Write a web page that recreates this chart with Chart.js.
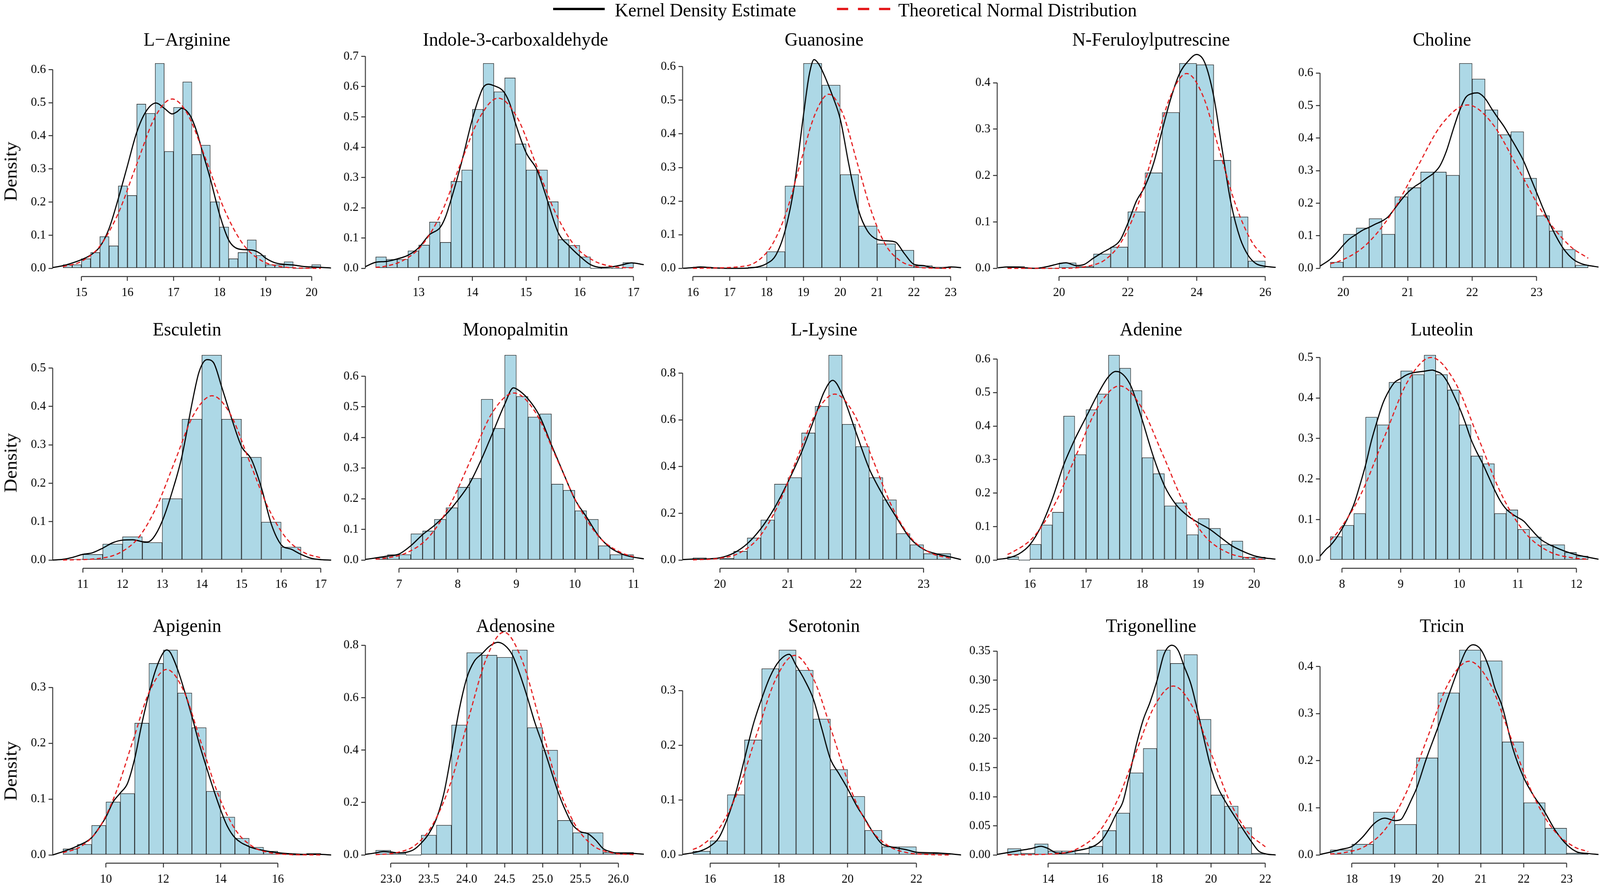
<!DOCTYPE html>
<html>
<head>
<meta charset="utf-8">
<script src="https://cdn.jsdelivr.net/npm/chart.js@4.4.1/dist/chart.umd.min.js"></script>
<style>
  html, body { margin: 0; padding: 0; background: #fff; overflow: hidden; }
  #page { position: absolute; left: 0; top: 0; width: 4252px; height: 2271px; overflow: hidden; transform-origin: 0 0;
          font-family: 'Liberation Serif', 'Times New Roman', serif; color: #000; background: #fff; }
  canvas { position: absolute; }
  .title { position: absolute; width: 800px; height: 49px; line-height: 49px; font-size: 49px; text-align: center; white-space: nowrap; }
  .ylab { position: absolute; font-size: 49px; line-height: 49px; white-space: nowrap; transform: translate(-50%, -50%) rotate(-90deg); }
  .legtext { position: absolute; top: 1px; font-size: 49px; line-height: 49px; white-space: nowrap; }
</style>
</head>
<body>
<div id="page">
<div style="position:absolute;left:1470px;top:20px;width:137px;height:6px;background:#000"></div>
<div class="legtext" style="left:1634px">Kernel Density Estimate</div>
<svg style="position:absolute;left:2224px;top:13px" width="142" height="20">
  <line x1="0" y1="10" x2="142" y2="10" stroke="#E41A1C" stroke-width="6" stroke-dasharray="30 26"/>
</svg>
<div class="legtext" style="left:2387px">Theoretical Normal Distribution</div>
</div>

<script>
// ---- data ----
const titles = ['L\u2212Arginine', 'Indole-3-carboxaldehyde', 'Guanosine', 'N-Feruloylputrescine', 'Choline',
                'Esculetin', 'Monopalmitin', 'L-Lysine', 'Adenine', 'Luteolin',
                'Apigenin', 'Adenosine', 'Serotonin', 'Trigonelline', 'Tricin'];

const binStart = [14.6, 12.2, 16.0, 18.5, 19.8, 10.5, 6.6, 19.6, 15.6, 7.8, 8.5, 22.8, 15.5, 12.5, 17.5];
const binWidth = [0.2, 0.2, 0.5, 0.5, 0.2, 0.5, 0.2, 0.2, 0.2, 0.2, 0.5, 0.2, 0.5, 0.5, 0.5];

const xTicks = [
  [15, 16, 17, 18, 19, 20], [13, 14, 15, 16, 17], [16, 17, 18, 19, 20, 21, 22, 23], [20, 22, 24, 26], [20, 21, 22, 23],
  [11, 12, 13, 14, 15, 16, 17], [7, 8, 9, 10, 11], [20, 21, 22, 23], [16, 17, 18, 19, 20], [8, 9, 10, 11, 12],
  [10, 12, 14, 16], [23, 23.5, 24, 24.5, 25, 25.5, 26], [16, 18, 20, 22], [14, 16, 18, 20, 22], [18, 19, 20, 21, 22, 23]
];
const yTicks = [
  [0, 0.1, 0.2, 0.3, 0.4, 0.5, 0.6], [0, 0.1, 0.2, 0.3, 0.4, 0.5, 0.6, 0.7], [0, 0.1, 0.2, 0.3, 0.4, 0.5, 0.6],
  [0, 0.1, 0.2, 0.3, 0.4], [0, 0.1, 0.2, 0.3, 0.4, 0.5, 0.6],
  [0, 0.1, 0.2, 0.3, 0.4, 0.5], [0, 0.1, 0.2, 0.3, 0.4, 0.5, 0.6], [0, 0.2, 0.4, 0.6, 0.8],
  [0, 0.1, 0.2, 0.3, 0.4, 0.5, 0.6], [0, 0.1, 0.2, 0.3, 0.4, 0.5],
  [0, 0.1, 0.2, 0.3], [0, 0.2, 0.4, 0.6, 0.8], [0, 0.1, 0.2, 0.3],
  [0, 0.05, 0.1, 0.15, 0.2, 0.25, 0.3, 0.35], [0, 0.1, 0.2, 0.3, 0.4]
];
const xDigits = [0, 0, 0, 0, 0, 0, 0, 0, 0, 0, 0, 1, 0, 0, 0];
const yDigits = [1, 1, 1, 1, 1, 1, 1, 1, 1, 1, 1, 1, 1, 2, 1];

// histogram densities, one value per bin
const histArginine = [0.011, 0.011, 0.029, 0.048, 0.096, 0.068, 0.249, 0.220, 0.496, 0.468, 0.619, 0.353, 0.486, 0.563,
                      0.344, 0.372, 0.201, 0.125, 0.029, 0.048, 0.086, 0.039, 0.011, 0.011, 0.020, 0, 0, 0.011];
const histIndole = [0.038, 0.030, 0.030, 0.058, 0.077, 0.153, 0.086, 0.287, 0.325, 0.525, 0.677, 0.583, 0.629, 0.411,
                    0.325, 0.325, 0.220, 0.095, 0.076, 0.038, 0, 0, 0, 0.019];
const histGuanosine = [0.004, 0, 0, 0.004, 0.050, 0.245, 0.610, 0.545, 0.279, 0.126, 0.073, 0.054, 0.008, 0.004];
const histFeruloyl = [0.004, 0, 0, 0.012, 0.004, 0.031, 0.046, 0.122, 0.206, 0.336, 0.442, 0.439, 0.233, 0.111, 0.016];
const histCholine = [0.019, 0.105, 0.124, 0.153, 0.105, 0.220, 0.248, 0.296, 0.296, 0.286, 0.630, 0.582, 0.487, 0.411,
                     0.420, 0.277, 0.162, 0.115, 0.058, 0.010];
const histEsculetin = [0.003, 0.015, 0.042, 0.061, 0.046, 0.160, 0.367, 0.534, 0.367, 0.268, 0.099, 0.034, 0.003];
const histMonopalmitin = [0.009, 0.018, 0.018, 0.086, 0.095, 0.133, 0.171, 0.238, 0.267, 0.525, 0.430, 0.669, 0.534,
                          0.467, 0.477, 0.248, 0.228, 0.161, 0.133, 0.047, 0.018, 0.018];
const histLysine = [0.010, 0.004, 0.008, 0.038, 0.095, 0.172, 0.325, 0.353, 0.544, 0.658, 0.877, 0.581, 0.486, 0.353,
                    0.258, 0.114, 0.066, 0.028, 0.028];
const histAdenine = [0.010, 0, 0.047, 0.105, 0.143, 0.430, 0.315, 0.449, 0.496, 0.612, 0.573, 0.506, 0.306, 0.258,
                     0.162, 0.171, 0.076, 0.124, 0.095, 0.047, 0.057, 0.009, 0.009];
const histLuteolin = [0.058, 0.086, 0.115, 0.353, 0.334, 0.439, 0.467, 0.458, 0.506, 0.458, 0.420, 0.334, 0.257, 0.238,
                      0.115, 0.124, 0.076, 0.057, 0.038, 0.038, 0.019, 0.010];
const histApigenin = [0.011, 0.019, 0.053, 0.095, 0.110, 0.236, 0.343, 0.367, 0.290, 0.228, 0.114, 0.068, 0.030, 0.014,
                      0.007, 0.003, 0, 0.003];
const histAdenosine = [0.018, 0.008, 0, 0.076, 0.114, 0.496, 0.772, 0.762, 0.754, 0.782, 0.486, 0.400, 0.132, 0.085,
                       0.085, 0.010, 0.010];
const histSerotonin = [0.007, 0.026, 0.110, 0.210, 0.340, 0.374, 0.337, 0.248, 0.156, 0.107, 0.045, 0.015, 0.015, 0.003, 0.003];
const histTrigonelline = [0.011, 0.003, 0.019, 0.007, 0.007, 0.003, 0.015, 0.042, 0.072, 0.141, 0.183, 0.352, 0.329,
                          0.344, 0.233, 0.103, 0.084, 0.047, 0.003];
const histTricin = [0.011, 0.023, 0.091, 0.065, 0.206, 0.344, 0.435, 0.412, 0.240, 0.111, 0.057, 0.004];

// kernel density curves [x, density]
const kdeArginine = [[14.36, 0.002], [14.6, 0.008], [14.8, 0.016], [15.0, 0.026], [15.2, 0.040], [15.4, 0.065], [15.6, 0.120],
  [15.8, 0.210], [16.0, 0.310], [16.2, 0.410], [16.4, 0.473], [16.62, 0.499], [16.81, 0.482], [16.97, 0.466], [17.08, 0.473],
  [17.18, 0.483], [17.3, 0.473], [17.4, 0.451], [17.52, 0.406], [17.6, 0.366], [17.8, 0.270], [18.0, 0.163], [18.2, 0.085],
  [18.4, 0.059], [18.6, 0.056], [18.75, 0.054], [18.88, 0.045], [19.0, 0.031], [19.2, 0.017], [19.4, 0.012], [19.6, 0.010],
  [19.8, 0.006], [20.0, 0.004], [20.2, 0.003], [20.42, 0.001]];
const kdeIndole = [[12.0, 0.005], [12.2, 0.020], [12.4, 0.023], [12.6, 0.031], [12.8, 0.043], [13.0, 0.068], [13.2, 0.111],
  [13.4, 0.135], [13.5, 0.170], [13.6, 0.225], [13.8, 0.351], [14.0, 0.493], [14.13, 0.567], [14.2, 0.597], [14.3, 0.608],
  [14.4, 0.603], [14.54, 0.591], [14.6, 0.579], [14.7, 0.542], [14.8, 0.480], [15.0, 0.382], [15.2, 0.326], [15.3, 0.277],
  [15.4, 0.222], [15.6, 0.117], [15.8, 0.074], [16.0, 0.040], [16.2, 0.012], [16.4, 0.003], [16.6, 0.005], [16.8, 0.012],
  [16.96, 0.018], [17.19, 0.012]];
const kdeGuanosine = [[15.73, 0.0], [16.0, 0.002], [16.2, 0.004], [16.5, 0.002], [17.0, 0.0], [17.5, 0.001], [17.75, 0.004],
  [18.0, 0.014], [18.25, 0.039], [18.5, 0.111], [18.75, 0.244], [19.0, 0.455], [19.16, 0.577], [19.29, 0.621], [19.42, 0.607],
  [19.58, 0.571], [19.8, 0.510], [20.0, 0.444], [20.23, 0.311], [20.5, 0.172], [20.74, 0.111], [21.0, 0.086], [21.25, 0.082],
  [21.5, 0.078], [21.74, 0.044], [22.0, 0.012], [22.26, 0.008], [22.5, 0.002], [22.76, 0.001], [23.0, 0.004], [23.28, 0.002]];
const kdeFeruloyl = [[18.22, 0.001], [18.51, 0.003], [18.86, 0.002], [19.32, 0.0], [19.67, 0.004], [20.0, 0.010], [20.2, 0.012],
  [20.5, 0.006], [20.72, 0.008], [21.0, 0.022], [21.26, 0.034], [21.5, 0.044], [21.77, 0.060], [22.0, 0.097], [22.25, 0.145],
  [22.5, 0.177], [22.76, 0.229], [23.0, 0.298], [23.25, 0.366], [23.5, 0.419], [23.76, 0.447], [24.0, 0.461], [24.24, 0.443],
  [24.5, 0.370], [24.74, 0.258], [25.0, 0.141], [25.27, 0.064], [25.5, 0.028], [25.73, 0.010], [25.94, 0.005], [26.3, 0.002]];
const kdeCholine = [[19.64, 0.007], [19.8, 0.028], [19.9, 0.048], [20.0, 0.071], [20.1, 0.091], [20.2, 0.104], [20.3, 0.117],
  [20.4, 0.126], [20.5, 0.136], [20.6, 0.145], [20.7, 0.159], [20.8, 0.184], [20.9, 0.210], [21.0, 0.233], [21.1, 0.250],
  [21.2, 0.263], [21.3, 0.278], [21.4, 0.292], [21.5, 0.315], [21.6, 0.360], [21.7, 0.423], [21.8, 0.482], [21.9, 0.525],
  [22.0, 0.537], [22.08, 0.539], [22.2, 0.522], [22.3, 0.491], [22.4, 0.462], [22.5, 0.434], [22.6, 0.400], [22.7, 0.366],
  [22.8, 0.329], [22.9, 0.281], [23.0, 0.233], [23.1, 0.184], [23.2, 0.139], [23.3, 0.099], [23.4, 0.065], [23.5, 0.040],
  [23.6, 0.023], [23.7, 0.014], [23.8, 0.009], [23.96, 0.004]];
const kdeEsculetin = [[10.24, 0.0], [10.5, 0.002], [10.74, 0.007], [11.0, 0.015], [11.24, 0.019], [11.5, 0.031], [11.75, 0.045],
  [12.0, 0.052], [12.26, 0.053], [12.5, 0.048], [12.62, 0.047], [12.77, 0.057], [13.0, 0.101], [13.27, 0.184], [13.5, 0.271],
  [13.76, 0.412], [13.93, 0.490], [14.13, 0.522], [14.29, 0.515], [14.5, 0.451], [14.75, 0.369], [15.0, 0.296], [15.25, 0.262],
  [15.5, 0.189], [15.76, 0.091], [16.0, 0.040], [16.26, 0.028], [16.5, 0.015], [16.78, 0.004], [17.03, 0.001], [17.26, 0.0]];
const kdeMonopalmitin = [[6.42, 0.002], [6.6, 0.007], [6.8, 0.013], [7.0, 0.020], [7.2, 0.047], [7.4, 0.083], [7.6, 0.113],
  [7.8, 0.149], [8.0, 0.195], [8.2, 0.249], [8.4, 0.327], [8.6, 0.417], [8.8, 0.508], [8.95, 0.562], [9.0, 0.559], [9.2, 0.526],
  [9.4, 0.469], [9.6, 0.375], [9.8, 0.285], [10.0, 0.198], [10.2, 0.140], [10.4, 0.080], [10.6, 0.041], [10.8, 0.020],
  [10.96, 0.011], [11.18, 0.004]];
const kdeLysine = [[19.45, 0.002], [19.6, 0.004], [19.8, 0.005], [20.0, 0.010], [20.2, 0.030], [20.4, 0.070], [20.6, 0.134],
  [20.8, 0.222], [21.0, 0.334], [21.2, 0.461], [21.4, 0.613], [21.53, 0.717], [21.66, 0.769], [21.8, 0.709], [22.0, 0.549],
  [22.2, 0.390], [22.4, 0.278], [22.6, 0.182], [22.8, 0.094], [23.0, 0.046], [23.2, 0.026], [23.4, 0.013], [23.55, 0.002]];
const kdeAdenine = [[15.41, 0.002], [15.6, 0.006], [15.8, 0.018], [16.0, 0.046], [16.2, 0.101], [16.4, 0.183], [16.6, 0.283],
  [16.8, 0.360], [17.0, 0.426], [17.2, 0.492], [17.4, 0.547], [17.53, 0.563], [17.6, 0.561], [17.8, 0.520], [18.0, 0.420],
  [18.2, 0.310], [18.4, 0.222], [18.6, 0.167], [18.8, 0.134], [19.0, 0.112], [19.2, 0.093], [19.4, 0.068], [19.6, 0.043],
  [19.8, 0.026], [20.0, 0.013], [20.2, 0.006], [20.38, 0.003]];
const kdeLuteolin = [[7.62, 0.009], [7.73, 0.027], [7.8, 0.036], [7.9, 0.054], [8.0, 0.077], [8.1, 0.105], [8.2, 0.137],
  [8.3, 0.183], [8.4, 0.234], [8.5, 0.294], [8.6, 0.344], [8.7, 0.388], [8.8, 0.418], [8.9, 0.439], [9.0, 0.448], [9.1, 0.457],
  [9.2, 0.462], [9.4, 0.466], [9.54, 0.469], [9.6, 0.466], [9.7, 0.459], [9.8, 0.439], [9.9, 0.409], [10.0, 0.377],
  [10.1, 0.340], [10.2, 0.298], [10.3, 0.266], [10.4, 0.238], [10.5, 0.206], [10.6, 0.174], [10.7, 0.146], [10.8, 0.126],
  [10.9, 0.114], [11.0, 0.105], [11.1, 0.096], [11.2, 0.080], [11.3, 0.064], [11.4, 0.050], [11.5, 0.041], [11.6, 0.034],
  [11.8, 0.022], [12.0, 0.013], [12.2, 0.007], [12.38, 0.002]];
const kdeApigenin = [[8.14, 0.0], [8.5, 0.006], [9.0, 0.016], [9.5, 0.031], [9.75, 0.048], [10.0, 0.068], [10.25, 0.095],
  [10.5, 0.111], [10.75, 0.128], [11.0, 0.172], [11.24, 0.232], [11.5, 0.289], [11.74, 0.332], [12.0, 0.362], [12.12, 0.367],
  [12.25, 0.362], [12.5, 0.332], [12.75, 0.292], [13.0, 0.248], [13.24, 0.202], [13.5, 0.158], [13.75, 0.118], [14.0, 0.081],
  [14.24, 0.051], [14.5, 0.031], [15.0, 0.015], [15.5, 0.008], [16.0, 0.004], [16.5, 0.002], [17.0, 0.001], [17.5, 0.001],
  [17.86, 0.0]];
const kdeAdenosine = [[22.66, 0.002], [22.8, 0.008], [22.9, 0.013], [23.0, 0.011], [23.1, 0.008], [23.2, 0.010], [23.3, 0.020],
  [23.4, 0.045], [23.5, 0.081], [23.6, 0.138], [23.7, 0.236], [23.8, 0.390], [23.9, 0.552], [24.0, 0.674], [24.1, 0.739],
  [24.2, 0.767], [24.3, 0.796], [24.41, 0.811], [24.5, 0.800], [24.6, 0.764], [24.7, 0.690], [24.8, 0.601], [24.9, 0.504],
  [25.0, 0.422], [25.1, 0.333], [25.2, 0.244], [25.3, 0.171], [25.4, 0.114], [25.5, 0.089], [25.6, 0.081], [25.7, 0.057],
  [25.8, 0.024], [25.9, 0.012], [26.0, 0.006], [26.17, 0.006], [26.34, 0.003]];
const kdeSerotonin = [[15.2, 0.001], [15.5, 0.004], [15.75, 0.008], [16.0, 0.016], [16.26, 0.032], [16.5, 0.066], [16.75, 0.114],
  [17.0, 0.175], [17.25, 0.237], [17.5, 0.285], [17.75, 0.326], [18.0, 0.353], [18.3, 0.366], [18.5, 0.346], [18.75, 0.319],
  [19.0, 0.285], [19.25, 0.230], [19.5, 0.175], [19.75, 0.148], [20.0, 0.121], [20.26, 0.090], [20.5, 0.066], [20.76, 0.039],
  [21.0, 0.020], [21.25, 0.015], [21.5, 0.012], [21.75, 0.009], [22.0, 0.005], [22.5, 0.004], [23.0, 0.002], [23.3, 0.0]];
const kdeTrigonelline = [[12.12, 0.001], [12.5, 0.004], [13.0, 0.008], [13.38, 0.011], [13.73, 0.015], [14.0, 0.011],
  [14.27, 0.004], [14.5, 0.003], [15.0, 0.007], [15.5, 0.012], [15.75, 0.017], [16.0, 0.027], [16.25, 0.046], [16.5, 0.070],
  [16.75, 0.091], [17.0, 0.139], [17.25, 0.190], [17.5, 0.232], [17.75, 0.262], [18.0, 0.298], [18.27, 0.345], [18.56, 0.360],
  [18.79, 0.351], [19.0, 0.325], [19.26, 0.293], [19.5, 0.248], [19.75, 0.197], [20.0, 0.149], [20.25, 0.116], [20.5, 0.094],
  [20.75, 0.075], [21.0, 0.057], [21.25, 0.039], [21.5, 0.022], [21.75, 0.007], [22.0, 0.002], [22.38, 0.0]];
const kdeTricin = [[17.26, 0.001], [17.5, 0.006], [17.75, 0.012], [18.0, 0.018], [18.25, 0.038], [18.5, 0.065], [18.65, 0.075],
  [18.77, 0.078], [19.0, 0.073], [19.14, 0.075], [19.24, 0.089], [19.39, 0.118], [19.5, 0.140], [19.74, 0.206], [20.0, 0.270],
  [20.24, 0.335], [20.5, 0.400], [20.66, 0.434], [20.82, 0.446], [21.0, 0.436], [21.19, 0.398], [21.33, 0.354], [21.5, 0.315],
  [21.75, 0.225], [22.0, 0.164], [22.25, 0.123], [22.45, 0.097], [22.75, 0.050], [23.0, 0.022], [23.25, 0.006], [23.5, 0.003],
  [23.74, 0.001]];

// theoretical normal curves [x, density]
const normArginine = [[14.6, 0.005], [15.0, 0.021], [15.4, 0.067], [15.8, 0.166], [16.2, 0.314], [16.6, 0.457], [16.97, 0.511],
  [17.3, 0.467], [17.7, 0.330], [18.1, 0.179], [18.5, 0.075], [18.9, 0.024], [19.3, 0.006], [19.7, 0.001], [20.2, 0.0]];
const normIndole = [[12.2, 0.003], [12.35, 0.006], [12.7, 0.025], [13.06, 0.076], [13.42, 0.182], [13.77, 0.341], [14.13, 0.496],
  [14.48, 0.562], [14.84, 0.496], [15.19, 0.341], [15.55, 0.182], [15.9, 0.076], [16.26, 0.025], [16.61, 0.006], [17.0, 0.001]];
const normGuanosine = [[16.0, 0.0], [17.38, 0.006], [17.77, 0.023], [18.15, 0.070], [18.54, 0.168], [18.92, 0.314], [19.31, 0.457],
  [19.69, 0.518], [20.08, 0.457], [20.46, 0.314], [20.85, 0.168], [21.23, 0.070], [21.62, 0.023], [22.0, 0.006], [22.39, 0.001],
  [23.0, 0.0]];
const normFeruloyl = [[18.5, 0.0], [20.0, 0.0], [20.86, 0.005], [21.33, 0.018], [21.81, 0.057], [22.29, 0.136], [22.76, 0.255],
  [23.24, 0.371], [23.71, 0.420], [24.19, 0.371], [24.66, 0.255], [25.14, 0.136], [25.61, 0.057], [26.0, 0.023]];
const normCholine = [[19.8, 0.014], [19.94, 0.022], [20.33, 0.068], [20.73, 0.163], [21.13, 0.304], [21.53, 0.443], [21.93, 0.502],
  [22.32, 0.443], [22.72, 0.304], [23.12, 0.163], [23.52, 0.068], [23.8, 0.031]];
const normEsculetin = [[10.5, 0.0], [11.46, 0.005], [11.93, 0.019], [12.4, 0.058], [12.86, 0.139], [13.33, 0.260], [13.79, 0.378],
  [14.26, 0.428], [14.73, 0.378], [15.19, 0.260], [15.66, 0.139], [16.12, 0.058], [16.59, 0.019], [17.0, 0.006]];
const normMonopalmitin = [[6.6, 0.003], [6.76, 0.006], [7.13, 0.024], [7.5, 0.074], [7.86, 0.177], [8.23, 0.331], [8.59, 0.481],
  [8.96, 0.545], [9.33, 0.481], [9.69, 0.331], [10.06, 0.177], [10.42, 0.074], [10.79, 0.024], [11.0, 0.011]];
const normLysine = [[19.6, 0.001], [20.0, 0.008], [20.29, 0.031], [20.57, 0.096], [20.85, 0.231], [21.13, 0.431], [21.41, 0.627],
  [21.69, 0.710], [21.97, 0.627], [22.25, 0.431], [22.53, 0.231], [22.81, 0.096], [23.1, 0.031], [23.4, 0.007]];
const normAdenine = [[15.6, 0.017], [15.68, 0.023], [16.07, 0.070], [16.45, 0.169], [16.83, 0.315], [17.22, 0.459], [17.6, 0.520],
  [17.98, 0.459], [18.37, 0.315], [18.75, 0.169], [19.13, 0.070], [19.52, 0.023], [19.9, 0.006], [20.2, 0.002]];
const normLuteolin = [[7.8, 0.049], [7.92, 0.068], [8.32, 0.162], [8.72, 0.303], [9.12, 0.441], [9.52, 0.500], [9.92, 0.441],
  [10.32, 0.303], [10.72, 0.162], [11.12, 0.068], [11.52, 0.022], [11.91, 0.006], [12.2, 0.002]];
const normApigenin = [[8.5, 0.004], [9.12, 0.015], [9.72, 0.045], [10.32, 0.108], [10.92, 0.201], [11.52, 0.293], [12.12, 0.332],
  [12.72, 0.293], [13.32, 0.201], [13.92, 0.108], [14.52, 0.045], [15.12, 0.015], [15.72, 0.004], [16.33, 0.001], [17.5, 0.0]];
const normAdenosine = [[22.8, 0.001], [23.08, 0.009], [23.32, 0.037], [23.55, 0.115], [23.79, 0.276], [24.02, 0.516], [24.26, 0.750],
  [24.49, 0.850], [24.72, 0.750], [24.96, 0.516], [25.19, 0.276], [25.43, 0.115], [25.66, 0.037], [25.9, 0.009], [26.2, 0.001]];
const normSerotonin = [[15.5, 0.010], [15.72, 0.016], [16.27, 0.049], [16.82, 0.118], [17.36, 0.221], [17.91, 0.321], [18.46, 0.364],
  [19.01, 0.321], [19.56, 0.221], [20.1, 0.118], [20.65, 0.049], [21.2, 0.016], [21.75, 0.004], [22.3, 0.001], [23.0, 0.0]];
const normTrigonelline = [[12.5, 0.0], [14.48, 0.003], [15.17, 0.013], [15.86, 0.039], [16.55, 0.094], [17.23, 0.176],
  [17.92, 0.256], [18.61, 0.290], [19.3, 0.256], [19.99, 0.176], [20.67, 0.094], [21.36, 0.039], [22.0, 0.014]];
const normTricin = [[17.5, 0.002], [17.82, 0.005], [18.3, 0.018], [18.79, 0.056], [19.27, 0.133], [19.76, 0.249], [20.24, 0.363],
  [20.73, 0.411], [21.22, 0.363], [21.7, 0.249], [22.19, 0.133], [22.67, 0.056], [23.16, 0.018], [23.5, 0.007]];

const hists = [histArginine, histIndole, histGuanosine, histFeruloyl, histCholine, histEsculetin, histMonopalmitin,
               histLysine, histAdenine, histLuteolin, histApigenin, histAdenosine, histSerotonin, histTrigonelline, histTricin];
const kdes = [kdeArginine, kdeIndole, kdeGuanosine, kdeFeruloyl, kdeCholine, kdeEsculetin, kdeMonopalmitin,
              kdeLysine, kdeAdenine, kdeLuteolin, kdeApigenin, kdeAdenosine, kdeSerotonin, kdeTrigonelline, kdeTricin];
const norms = [normArginine, normIndole, normGuanosine, normFeruloyl, normCholine, normEsculetin, normMonopalmitin,
               normLysine, normAdenine, normLuteolin, normApigenin, normAdenosine, normSerotonin, normTrigonelline, normTricin];

// ---- page layout (pixels) ----
const PAGE_W = 4252, PAGE_H = 2271;
const axisLeft = [140, 971, 1814, 2650, 3508];   // y axis position of each column
const rowBottom = [708, 1455, 2210];             // x axis line of each row
const titleX = [497, 1370, 2190, 3059, 3832];
const titleY = [100, 842, 1601];
const ylabY = [439, 1185, 1974];
const CH = 768, PLOT_W = 740, PLOT_H = 567, YAXIS_W = 140, XAXIS_H = 60;

const page = document.getElementById('page');
// fit the fixed-size page into whatever viewport we get
const sx = window.innerWidth / PAGE_W, sy = window.innerHeight / PAGE_H;
if (Math.abs(sx - 1) > 0.002 || Math.abs(sy - 1) > 0.002) {
  page.style.transform = 'scale(' + sx + ',' + sy + ')';
}

Chart.defaults.font.family = "'Liberation Serif', 'Times New Roman', serif";
Chart.defaults.font.size = 32;
Chart.defaults.color = '#000';

// R style axes: lines only run from first to last tick
const rAxes = {
  id: 'rAxes',
  beforeDatasetsDraw(chart) {
    const { ctx, chartArea, scales: { x, y } } = chart;
    const xt = x.ticks, yt = y.ticks;
    ctx.save();
    ctx.strokeStyle = '#333';
    ctx.lineWidth = 2.5;
    ctx.beginPath();
    ctx.moveTo(x.getPixelForValue(xt[0].value), chartArea.bottom);
    ctx.lineTo(x.getPixelForValue(xt[xt.length - 1].value), chartArea.bottom);
    ctx.moveTo(chartArea.left, y.getPixelForValue(yt[0].value));
    ctx.lineTo(chartArea.left, y.getPixelForValue(yt[yt.length - 1].value));
    ctx.stroke();
    ctx.restore();
  }
};

function addText(cls, text, left, top) {
  const d = document.createElement('div');
  d.className = cls;
  d.textContent = text;
  d.style.left = left + 'px';
  d.style.top = top + 'px';
  page.appendChild(d);
}

titles.forEach((name, i) => {
  const row = Math.floor(i / 5), col = i % 5;
  const start = binStart[i], width = binWidth[i], hist = hists[i];
  const span = hist.length * width;
  const peak = Math.max(...hist);

  const left = axisLeft[col] - YAXIS_W;
  const top = rowBottom[row] - (CH - XAXIS_H);
  const cw = Math.min(900, PAGE_W - left);

  const canvas = document.createElement('canvas');
  canvas.width = cw; canvas.height = CH;
  canvas.style.width = cw + 'px'; canvas.style.height = CH + 'px';
  canvas.style.left = left + 'px';
  canvas.style.top = top + 'px';
  page.appendChild(canvas);

  addText('title', name, titleX[col] - 400, titleY[row] - 24.5);
  if (col === 0) addText('ylab', 'Density', 28, ylabY[row]);

  const tickGrid = { display: true, drawOnChartArea: false, drawTicks: true, tickLength: 11, color: '#333', lineWidth: 2.5, offset: false };

  new Chart(canvas, {
    type: 'bar',
    data: {
      datasets: [
        {
          type: 'bar',
          data: hist.map((v, k) => ({ x: start + (k + 0.5) * width, y: v })),
          backgroundColor: '#ADD8E6',
          borderColor: '#222',
          borderWidth: 1.5,
          borderSkipped: false,
          barPercentage: 1,
          categoryPercentage: 1,
          minBarLength: 2,
          order: 3
        },
        {
          type: 'line',
          data: kdes[i].map(([x, y]) => ({ x, y })),
          borderColor: '#000',
          borderWidth: 3,
          pointRadius: 0,
          fill: false,
          cubicInterpolationMode: 'monotone',
          clip: { left: 0, right: 0, top: false, bottom: 4 },
          order: 2
        },
        {
          type: 'line',
          data: norms[i].map(([x, y]) => ({ x, y })),
          borderColor: '#E41A1C',
          borderWidth: 3,
          borderDash: [11, 7],
          pointRadius: 0,
          fill: false,
          cubicInterpolationMode: 'monotone',
          clip: { left: 0, right: 0, top: false, bottom: 4 },
          order: 1
        }
      ]
    },
    options: {
      responsive: false,
      maintainAspectRatio: false,
      devicePixelRatio: 1,
      animation: false,
      events: [],
      layout: { autoPadding: false, padding: { left: 0, top: CH - XAXIS_H - PLOT_H, right: cw - YAXIS_W - PLOT_W, bottom: 0 } },
      plugins: { legend: { display: false }, tooltip: { enabled: false }, title: { display: false } },
      scales: {
        x: {
          type: 'linear',
          min: start - 0.04 * span,
          max: start + span + 0.04 * span,
          offset: false,
          afterBuildTicks: s => { s.ticks = xTicks[i].map(v => ({ value: v })); },
          afterFit: s => { s.height = XAXIS_H; },
          ticks: { autoSkip: false, maxRotation: 0, padding: 11, callback: v => v.toFixed(xDigits[i]) },
          grid: tickGrid,
          border: { display: false }
        },
        y: {
          type: 'linear',
          min: -0.04 * peak,
          max: 1.04 * peak,
          afterBuildTicks: s => { s.ticks = yTicks[i].map(v => ({ value: v })); },
          afterFit: s => { s.width = YAXIS_W; },
          ticks: { autoSkip: false, padding: 7, callback: v => v.toFixed(yDigits[i]) },
          grid: tickGrid,
          border: { display: false }
        }
      }
    },
    plugins: [rAxes]
  });
});
</script>
</body>
</html>
